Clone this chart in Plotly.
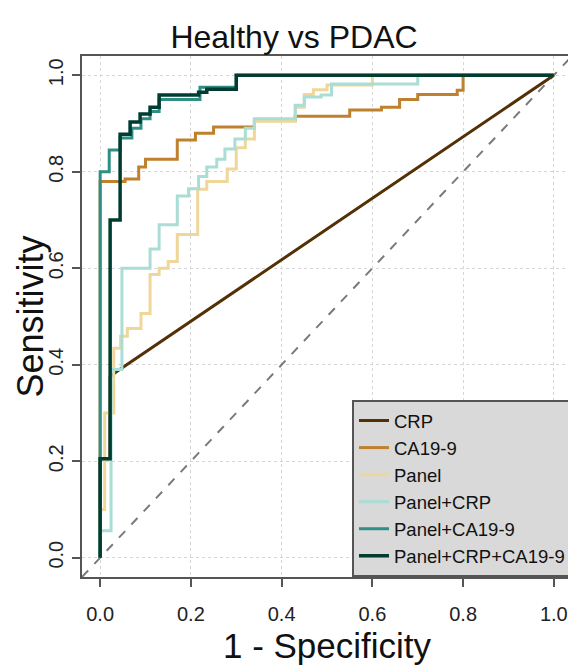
import plotly.graph_objects as go

# ---- data ----
series_names = ["CRP", "CA19-9", "Panel", "Panel+CRP", "Panel+CA19-9", "Panel+CRP+CA19-9"]
series_colors = ["#543005", "#bf812d", "#efd79a", "#a9ddd6", "#2f8f85", "#003c30"]

crp_fpr = [0.0, 0.0, 0.022, 0.022, 0.035, 1.0]
crp_tpr = [0.0, 0.205, 0.205, 0.375, 0.385, 1.0]

ca199_fpr = [0.0, 0.0, 0.055, 0.055, 0.085, 0.085, 0.10, 0.10, 0.17, 0.17, 0.21, 0.21, 0.25, 0.25, 0.34,
             0.34, 0.43, 0.43, 0.55, 0.55, 0.62, 0.62, 0.66, 0.66, 0.70, 0.70, 0.787, 0.787, 0.80, 0.80, 1.0]
ca199_tpr = [0.0, 0.78, 0.78, 0.785, 0.785, 0.81, 0.81, 0.826, 0.826, 0.866, 0.866, 0.88, 0.88, 0.893, 0.893,
             0.907, 0.907, 0.915, 0.915, 0.928, 0.928, 0.934, 0.934, 0.95, 0.95, 0.96, 0.96, 0.969, 0.969, 1.0, 1.0]

panel_fpr = [0.0, 0.0, 0.01, 0.01, 0.03, 0.03, 0.045, 0.045, 0.06, 0.06, 0.09, 0.09, 0.11, 0.11, 0.13, 0.13, 0.15,
             0.15, 0.17, 0.17, 0.215, 0.215, 0.235, 0.235, 0.28, 0.28, 0.30, 0.30, 0.32, 0.32, 0.34, 0.34,
             0.43, 0.43, 0.45, 0.45, 0.47, 0.47, 0.50, 0.50, 0.60, 0.60, 1.0]
panel_tpr = [0.0, 0.10, 0.10, 0.30, 0.30, 0.434, 0.434, 0.459, 0.459, 0.475, 0.475, 0.506, 0.506, 0.587, 0.587, 0.60,
             0.60, 0.614, 0.614, 0.67, 0.67, 0.764, 0.764, 0.78, 0.78, 0.806, 0.806, 0.85, 0.85, 0.868, 0.868,
             0.905, 0.905, 0.934, 0.934, 0.96, 0.96, 0.97, 0.97, 0.98, 0.98, 1.0, 1.0]

pcrp_fpr = [0.0, 0.0, 0.024, 0.024, 0.048, 0.048, 0.11, 0.11, 0.13, 0.13, 0.17, 0.17, 0.195, 0.195, 0.217, 0.217,
            0.235, 0.235, 0.257, 0.257, 0.275, 0.275, 0.297, 0.297, 0.32, 0.32, 0.34, 0.34, 0.43, 0.43, 0.45,
            0.45, 0.487, 0.487, 0.51, 0.51, 0.70, 0.70, 1.0]
pcrp_tpr = [0.0, 0.056, 0.056, 0.39, 0.39, 0.60, 0.60, 0.64, 0.64, 0.69, 0.69, 0.75, 0.75, 0.765, 0.765, 0.79,
            0.79, 0.81, 0.81, 0.826, 0.826, 0.847, 0.847, 0.868, 0.868, 0.89, 0.89, 0.91, 0.91, 0.938, 0.938,
            0.955, 0.955, 0.959, 0.959, 0.982, 0.982, 1.0, 1.0]

pca_fpr = [0.0, 0.0, 0.02, 0.02, 0.044, 0.044, 0.07, 0.07, 0.09, 0.09, 0.11, 0.11, 0.13, 0.13, 0.22,
           0.22, 0.30, 0.30, 1.0]
pca_tpr = [0.0, 0.80, 0.80, 0.845, 0.845, 0.87, 0.87, 0.89, 0.89, 0.91, 0.91, 0.925, 0.925, 0.95, 0.95,
           0.975, 0.975, 1.0, 1.0]

pall_fpr = [0.0, 0.0, 0.022, 0.022, 0.044, 0.044, 0.066, 0.066, 0.088, 0.088, 0.11, 0.11, 0.13, 0.13,
            0.217, 0.217, 0.235, 0.235, 0.30, 0.30, 1.0]
pall_tpr = [0.0, 0.205, 0.205, 0.70, 0.70, 0.878, 0.878, 0.903, 0.903, 0.92, 0.92, 0.934, 0.934, 0.959,
            0.959, 0.965, 0.965, 0.971, 0.971, 1.0, 1.0]

diag = [-0.04, 1.04]
tick_vals = [0.0, 0.2, 0.4, 0.6, 0.8, 1.0]
tick_text = ["0.0", "0.2", "0.4", "0.6", "0.8", "1.0"]

xs = [crp_fpr, ca199_fpr, panel_fpr, pcrp_fpr, pca_fpr, pall_fpr]
ys = [crp_tpr, ca199_tpr, panel_tpr, pcrp_tpr, pca_tpr, pall_tpr]
widths = [3, 3, 3, 3, 3, 3.5]

FONT = "Liberation Sans, Arial, sans-serif"

# the page body has an 8px default margin, so the figure is 8px smaller
W, H = 568, 660
ML, MR, MT, MB = 74, 4, 48, 91
PW = W - ML - MR

fig = go.Figure()
fig.add_trace(go.Scatter(x=diag, y=diag, mode="lines", showlegend=False,
                         line=dict(color="#7a7a7a", width=2, dash="dash"), hoverinfo="skip"))
for name, col, x, y, w in zip(series_names, series_colors, xs, ys, widths):
    fig.add_trace(go.Scatter(x=x, y=y, mode="lines", name=name,
                             line=dict(color=col, width=w)))

axis_common = dict(
    range=[-0.04, 1.04], tickvals=tick_vals, ticktext=tick_text,
    showline=True, mirror=True, linecolor="#555555", linewidth=2,
    ticks="outside", ticklen=8, tickwidth=1.5, tickcolor="#555555",
    showgrid=True, gridcolor="#d6d6d6", griddash="dot", gridwidth=1,
    zeroline=False, automargin=False,
    tickfont=dict(family=FONT, size=20, color="#222222"),
)

fig.update_layout(
    width=W, height=H,
    margin=dict(l=ML, r=MR, t=MT, b=MB),
    paper_bgcolor="white", plot_bgcolor="white",
    title=dict(text="Healthy vs PDAC", x=286 / W, xanchor="center",
               y=1 - 29 / H, yanchor="middle", yref="container",
               font=dict(family=FONT, size=32, color="#111111")),
    xaxis=dict(axis_common, title=dict(text="1 - Specificity", standoff=9,
                                       font=dict(family=FONT, size=35, color="#111111")),
               ticklabelstandoff=10),
    yaxis=dict(axis_common, tickangle=-90, ticklabelstandoff=1),
    legend=dict(x=1, y=0, xanchor="right", yanchor="bottom",
                bgcolor="#d9d9d9", bordercolor="#555555", borderwidth=2,
                font=dict(family=FONT, size=18.5, color="#111111"),
                itemwidth=30, tracegroupgap=0),
    showlegend=True,
    annotations=[dict(text="Sensitivity", textangle=-90, showarrow=False,
                      xref="paper", yref="paper", x=(22 - ML) / PW, y=0.5,
                      xanchor="center", yanchor="middle", borderpad=0,
                      font=dict(family=FONT, size=36, color="#111111"))],
)

fig.write_html("out.html")
